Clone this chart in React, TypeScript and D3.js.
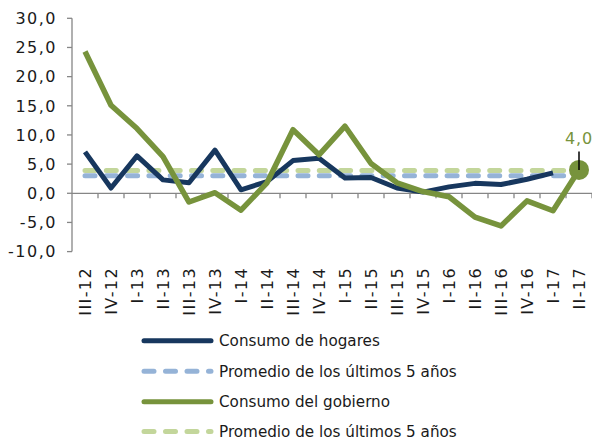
import React from "react";
import * as d3 from "d3";

const categories = ["III-12","IV-12","I-13","II-13","III-13","IV-13","I-14","II-14","III-14","IV-14","I-15","II-15","III-15","IV-15","I-16","II-16","III-16","IV-16","I-17","II-17"];
const hogares: (number | null)[] = [7.1,0.9,6.4,2.3,1.8,7.4,0.6,2.0,5.6,6.0,2.6,2.7,0.9,0.2,1.1,1.7,1.5,2.4,3.5,null];
const gobierno = [24.3,15.1,11.1,6.3,-1.5,0.1,-2.9,1.8,10.9,6.6,11.5,5.1,1.8,0.3,-0.6,-4.1,-5.6,-1.3,-3.0,4.0];
const promHogares = 3.0;
const promGobierno = 3.9;
const yTicks = [30,25,20,15,10,5,0,-5,-10];
const legendLabels = ["Consumo de hogares","Promedio de los últimos 5 años","Consumo del gobierno","Promedio de los últimos 5 años"];

const NAVY = "#17375E";
const GREEN = "#77933C";
const LBLUE = "#95B3D7";
const LGREEN = "#C3D69B";
const AXIS = "#868686";
const FONT = "DejaVu Sans, Verdana, sans-serif";

const fmt = (v: number) => d3.format(".1f")(v).replace(".", ",").replace("\u2212", "-");

export default function App() {
  const W = 592, H = 442;
  const left = 72, right = 592, top = 18.3, bottom = 251.6;
  const x = d3.scaleBand<string>().domain(categories).range([left, right]);
  const y = d3.scaleLinear().domain([-10, 30]).range([bottom, top]);
  const cx = (c: string) => (x(c) as number) + x.bandwidth() / 2;

  const line = d3.line<number | null>()
    .defined(d => d !== null)
    .x((_, i) => cx(categories[i]))
    .y(d => y(d as number));

  const first = cx(categories[0]);
  const last = cx(categories[categories.length - 1]);
  const y0 = y(0);
  const lastVal = gobierno[gobierno.length - 1];

  const legendColors = [NAVY, LBLUE, GREEN, LGREEN];
  const legendDashed = [false, true, false, true];
  const legendY = [340.7, 371.3, 401.7, 431.5];

  return (
    <svg width={W} height={H} style={{ position: "absolute", left: 0, top: 0, background: "#fff" }} fontFamily={FONT}>
      {/* y axis */}
      <line x1={left} x2={left} y1={y(30)} y2={y(-10)} stroke={AXIS} strokeWidth={1.3} />
      {yTicks.map(t => (
        <g key={t}>
          <line x1={left - 5} x2={left} y1={y(t)} y2={y(t)} stroke={AXIS} strokeWidth={1.3} />
          <text x={57} y={y(t)} dy="0.36em" textAnchor="end" fontSize={16} letterSpacing={1.5} fill="#1a1a1a">
            {fmt(t)}
          </text>
        </g>
      ))}
      {/* x axis at zero */}
      <line x1={left} x2={right} y1={y0} y2={y0} stroke={AXIS} strokeWidth={1.3} />
      {categories.map(c => (
        <line key={c} x1={(x(c) as number) + x.bandwidth()} x2={(x(c) as number) + x.bandwidth()} y1={y0} y2={y0 + 5} stroke={AXIS} strokeWidth={1.3} />
      ))}
      {categories.map(c => (
        <text key={c} transform={`translate(${cx(c)},267) rotate(-90)`} textAnchor="end" dy="0.36em" fontSize={16} letterSpacing={1.4} fill="#1a1a1a">
          {c}
        </text>
      ))}

      {/* averages */}
      <line x1={first} x2={last + 4} y1={y(promHogares)} y2={y(promHogares)} stroke={LBLUE} strokeWidth={5} strokeLinecap="round" strokeDasharray="10 11.3" />
      <line x1={first} x2={last + 4} y1={y(promGobierno)} y2={y(promGobierno)} stroke={LGREEN} strokeWidth={5} strokeLinecap="round" strokeDasharray="10 11.3" />

      {/* series */}
      <path d={line(hogares) || ""} fill="none" stroke={NAVY} strokeWidth={5} strokeLinejoin="round" />
      <path d={line(gobierno) || ""} fill="none" stroke={GREEN} strokeWidth={5.5} strokeLinejoin="round" />

      {/* last point marker and label */}
      <circle cx={last} cy={y(lastVal)} r={10} fill={GREEN} />
      <line x1={last} x2={last} y1={151.5} y2={y(lastVal)} stroke="#000" strokeWidth={1.5} />
      <text x={last} y={143.5} textAnchor="middle" fontSize={16} letterSpacing={0.8} fill={GREEN}>
        {fmt(lastVal)}
      </text>

      {/* legend */}
      {legendLabels.map((l, i) => (
        <g key={i}>
          <line x1={144} x2={211} y1={legendY[i]} y2={legendY[i]} stroke={legendColors[i]} strokeWidth={5} strokeLinecap="round" strokeDasharray={legendDashed[i] ? "10 11.5" : undefined} />
          <text x={219} y={legendY[i]} dy="0.36em" fontSize={15.2} fill="#1a1a1a">{l}</text>
        </g>
      ))}
    </svg>
  );
}
